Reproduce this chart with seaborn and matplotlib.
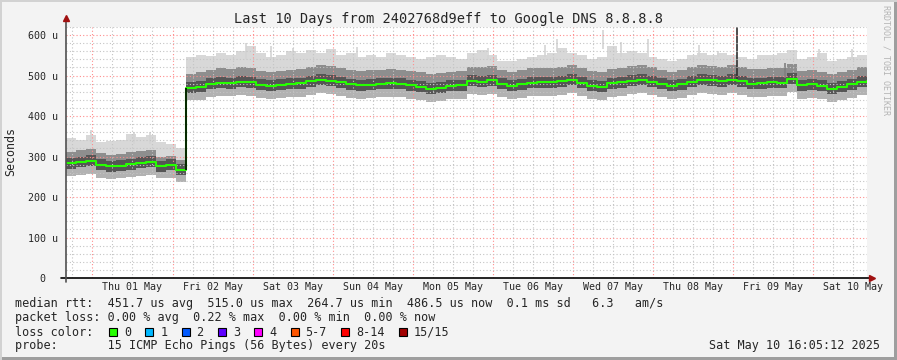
import matplotlib
matplotlib.use("Agg")
import matplotlib.pyplot as plt
import seaborn as sns
import pandas as pd
from matplotlib.patches import Rectangle

#_Data -----------------
# hours since Wed 30 Apr 16:05 (start of the 10 day window), one sample every 3 h
hours = list(range(0, 241, 3))

median_us = [283, 286, 289, 280, 276, 277, 281, 285, 287, 276, 279, 268,
             470, 472, 480, 482, 481, 484, 483, 477, 475, 477,
             479, 481, 486, 489, 487, 483, 478, 476, 477, 479,
             481, 479, 476, 472, 468, 470, 474, 476, 487, 485,
             488, 479, 474, 478, 482, 483, 483, 486, 489, 482,
             475, 472, 481, 483, 487, 489, 485, 479, 474, 478,
             484, 490, 488, 486, 489, 486, 480, 481, 483, 482,
             492, 476, 478, 474, 468, 473, 478, 485, 486]

smoke_top = [345, 340, 352, 335, 338, 342, 355, 348, 352, 335, 332, 322,
             545, 550, 548, 556, 552, 560, 572, 556, 546, 550,
             560, 555, 562, 556, 566, 552, 556, 546, 550, 545,
             556, 550, 546, 540, 545, 550, 546, 540, 556, 562,
             552, 536, 535, 541, 546, 551, 556, 568, 556, 550,
             540, 545, 572, 556, 561, 556, 546, 540, 535, 541,
             551, 556, 551, 556, 550, 546, 541, 550, 551, 556,
             562, 541, 546, 556, 536, 541, 546, 551, 556]

smoke_mid_top = [312, 315, 318, 308, 304, 306, 312, 314, 316, 300, 302, 292,
                 505, 510, 515, 518, 517, 520, 519, 512, 510, 512,
                 515, 517, 522, 525, 523, 519, 514, 512, 513, 515,
                 517, 515, 512, 508, 505, 507, 510, 512, 522, 520,
                 523, 515, 510, 514, 518, 519, 519, 522, 525, 518,
                 512, 508, 517, 519, 523, 525, 521, 515, 510, 514,
                 520, 526, 524, 522, 525, 522, 516, 517, 519, 518,
                 528, 512, 514, 510, 505, 509, 514, 521, 522]

dark_top = [297, 300, 303, 294, 290, 291, 295, 299, 301, 290, 293, 282,
            484, 486, 494, 496, 495, 498, 497, 491, 489, 491,
            493, 495, 500, 503, 501, 497, 492, 490, 491, 493,
            495, 493, 490, 486, 482, 484, 488, 490, 501, 499,
            502, 493, 488, 492, 496, 497, 497, 500, 503, 496,
            489, 486, 495, 497, 501, 503, 499, 493, 488, 492,
            498, 504, 502, 500, 503, 500, 494, 495, 497, 496,
            506, 490, 492, 488, 482, 487, 492, 499, 500]

dark_bottom = [270, 273, 276, 267, 263, 264, 268, 272, 274, 263, 266, 255,
               457, 459, 467, 469, 468, 471, 470, 464, 462, 464,
               466, 468, 473, 476, 474, 470, 465, 463, 464, 466,
               468, 466, 463, 459, 455, 457, 461, 463, 474, 472,
               475, 466, 461, 465, 469, 470, 470, 473, 476, 469,
               462, 459, 468, 470, 474, 476, 472, 466, 461, 465,
               471, 477, 475, 473, 476, 473, 467, 468, 470, 469,
               479, 463, 465, 461, 455, 460, 465, 472, 473]

smoke_bottom = [252, 254, 256, 248, 245, 246, 250, 253, 255, 246, 248, 238,
                440, 440, 447, 450, 449, 452, 450, 444, 442, 444,
                446, 448, 453, 456, 454, 450, 445, 443, 444, 446,
                448, 446, 443, 439, 435, 437, 441, 443, 454, 452,
                455, 446, 441, 445, 449, 450, 450, 453, 456, 449,
                442, 439, 448, 450, 454, 456, 452, 446, 441, 445,
                451, 457, 455, 453, 456, 453, 447, 448, 450, 449,
                459, 443, 445, 441, 435, 440, 445, 452, 453]

# single outlier pings (hour, low, high)
spike_hours = [7.5, 20.4, 25.2, 54, 61.5, 68.1, 87.3, 126.3, 143.4, 147, 161, 166.2,
               174.3, 189.6, 195.3, 201, 215.4, 225.6, 235.5]
spike_low = [330, 330, 330, 540, 540, 545, 545, 540, 545, 560, 565, 545,
             545, 545, 545, 488, 495, 540, 540]
spike_high = [365, 360, 360, 580, 572, 568, 570, 568, 575, 590, 612, 582,
              590, 575, 560, 620, 530, 565, 565]
spike_colors = ['#d4d4d4'] * 15 + ['#303030', '#808080', '#d4d4d4', '#d4d4d4']

day_labels = ['Thu 01 May', 'Fri 02 May', 'Sat 03 May', 'Sun 04 May', 'Mon 05 May',
              'Tue 06 May', 'Wed 07 May', 'Thu 08 May', 'Fri 09 May', 'Sat 10 May']
first_midnight = 7 + 55 / 60   # Thu 01 May 00:00 in hours since window start

loss_labels = ['0', '1', '2', '3', '4', '5-7', '8-14', '15/15']
loss_colors = ['#26ff00', '#00b8ff', '#0059ff', '#5e00ff', '#ff00ff', '#ff5500', '#ff0000', '#a10000']

stats_line = 'median rtt:  451.7 us avg  515.0 us max  264.7 us min  486.5 us now  0.1 ms sd   6.3   am/s'
loss_line = 'packet loss: 0.00 % avg  0.22 % max  0.00 % min  0.00 % now'
probe_line = 'probe:       15 ICMP Echo Pings (56 Bytes) every 20s'
stamp = 'Sat May 10 16:05:12 2025'
title = 'Last 10 Days from 2402768d9eff to Google DNS 8.8.8.8'

df = pd.DataFrame({'hours': hours, 'median': median_us, 'top': smoke_top,
                   'mid_top': smoke_mid_top, 'dark_top': dark_top,
                   'dark_bottom': dark_bottom, 'bottom': smoke_bottom})

#_Figure set up -----------------
sns.set_style("white")
plt.rcParams['font.family'] = ['DejaVu Sans Mono']
W, H = 897, 360

fig = plt.figure(figsize=(W / 100, H / 100), dpi=100, facecolor='#f3f3f3')
ax = fig.add_axes([66 / W, 82 / H, 801 / W, 251 / H])
ax.set_facecolor('white')

#_Smoke and median -----------------
ax.fill_between(df['hours'], df['bottom'], df['top'], step='post', color='#d8d8d8', lw=0, zorder=1)
ax.fill_between(df['hours'], df['bottom'], df['mid_top'], step='post', color='#b2b2b2', lw=0, zorder=1)
ax.fill_between(df['hours'], df['dark_bottom'], df['mid_top'], step='post', color='#8e8e8e', lw=0, zorder=1)
ax.fill_between(df['hours'], df['dark_bottom'], df['dark_top'], step='post', color='#555555', lw=0, zorder=1)
ax.vlines(spike_hours, spike_low, spike_high, colors=spike_colors, lw=1.2, zorder=1)

sns.lineplot(data=df, x='hours', y='median', drawstyle='steps-post', color='#26ff00',
             lw=1.5, estimator=None, ax=ax, zorder=4)
ax.vlines([36], [median_us[11]], [median_us[12]], colors='black', lw=1.2, zorder=5)

#_Axes -----------------
ax.set_xlim(0, 240)
ax.set_ylim(0, 620)

midnights = [first_midnight + 24 * k for k in range(10)]
quarters = [first_midnight - 6 + 6 * k for k in range(41) if k % 4 != 1]
quarters = [q for q in quarters if 0 < q < 240]
noons = [round(first_midnight + 12 + 24 * k, 3) for k in range(10)]
ax.set_xticks(midnights)
ax.set_xticklabels([])
ax.set_xticks(quarters, minor=True)
ax.set_xticklabels([day_labels[noons.index(round(q, 3))] if round(q, 3) in noons else '' for q in quarters],
                   minor=True, fontsize=7.2)

ax.set_yticks(range(0, 601, 100))
ax.set_yticklabels(['0  '] + [f'{v} u' for v in range(100, 601, 100)], fontsize=7.2)
ax.set_yticks([v for v in range(0, 621, 20) if v % 100 != 0], minor=True)

ax.tick_params(axis='x', which='both', length=2, pad=3, color='#404040')
ax.tick_params(axis='x', which='minor', length=0)
ax.tick_params(axis='y', which='major', length=3, pad=3, color='#404040')
ax.tick_params(axis='y', which='minor', length=1.5, color='#404040')

ax.set_axisbelow(False)
ax.grid(which='minor', color='#c4c4c4', ls=(0, (1, 2)), lw=0.8)
ax.grid(which='major', color='#ff8c8c', ls=(0, (1, 2)), lw=0.8)
ax.set_xlabel('')
ax.set_ylabel('')

for s in ax.spines.values():
    s.set_visible(False)
# axis lines with rrdtool style arrows
ax.plot([-5 / 801, 1 + 4 / 801], [0, 0], transform=ax.transAxes, color='black', lw=1.2, clip_on=False, zorder=6)
ax.plot([0, 0], [-4 / 251, 1 + 7 / 251], transform=ax.transAxes, color='#505050', lw=1.2, clip_on=False, zorder=6)
ax.plot([1 + 5 / 801], [0], transform=ax.transAxes, marker='>', ms=4, color='#a01010', clip_on=False, zorder=7)
ax.plot([0], [1 + 9 / 251], transform=ax.transAxes, marker='^', ms=4, color='#a01010', clip_on=False, zorder=7)

#_Text -----------------
fig.text(0.5, 1 - 19.5 / H, title, ha='center', va='center', fontsize=9.8)
fig.text(11 / W, 1 - 151 / H, 'Seconds', rotation=90, ha='center', va='center', fontsize=8.4)
fig.text(886 / W, 1 - 60 / H, 'RRDTOOL / TOBI OETIKER', rotation=270, ha='center', va='center',
         fontsize=6, color='#b4b4b4')

fig.text(15 / W, 1 - 303.5 / H, stats_line, va='center', fontsize=8.5)
fig.text(15 / W, 1 - 317.5 / H, loss_line, va='center', fontsize=8.5)
fig.text(15 / W, 1 - 332 / H, 'loss color:', va='center', fontsize=8.5)
fig.text(15 / W, 1 - 346 / H, probe_line, va='center', fontsize=8.5)
fig.text(880 / W, 1 - 346 / H, stamp, ha='right', va='center', fontsize=8.5)

x = 109
for lab, col in zip(loss_labels, loss_colors):
    fig.add_artist(Rectangle((x / W, 1 - 336 / H), 8 / W, 8 / H, transform=fig.transFigure,
                             fc=col, ec='black', lw=0.8))
    fig.text((x + 15) / W, 1 - 332 / H, lab, va='center', fontsize=8.5)
    x += 15 + (len(lab) + 2) * 7.1

#_Frame -----------------
fig.add_artist(Rectangle((0, 0), 1, 3 / H, transform=fig.transFigure, fc='#9e9e9e', lw=0))
fig.add_artist(Rectangle((1 - 3 / W, 0), 3 / W, 1, transform=fig.transFigure, fc='#9e9e9e', lw=0))
fig.add_artist(Rectangle((0, 1 - 2 / H), 1, 2 / H, transform=fig.transFigure, fc='#d2d2d2', lw=0))
fig.add_artist(Rectangle((0, 0), 2 / W, 1, transform=fig.transFigure, fc='#d2d2d2', lw=0))

fig.savefig('out.png', dpi=100, facecolor=fig.get_facecolor())
